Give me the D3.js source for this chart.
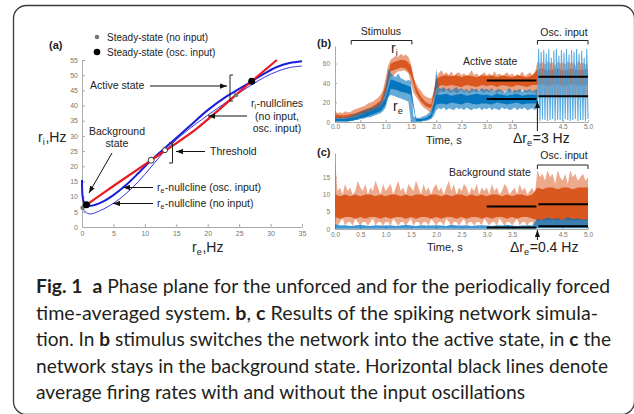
<!DOCTYPE html>
<html>
<head>
<meta charset="utf-8">
<script src="https://cdn.jsdelivr.net/npm/d3@7"></script>
<style>
  body { margin: 0; background: #fff; }
  svg text { font-family: "Liberation Sans", Arial, sans-serif; fill: #222; }
  .axis path, .axis line { stroke: #aaa; }
  .axis text { fill: #777; font-family: "Liberation Sans", Arial, sans-serif; }
  .cap { font-family: Lato, "Noto Sans", sans-serif; font-size: 19px; white-space: pre; }
  .cap tspan { fill: #231f20; }
</style>
</head>
<body>
<svg id="fig" width="634" height="414"></svg>
<script>
// ---- panel (a): phase plane ----
var reTicksA = [0, 5, 10, 15, 20, 25, 30, 35];
var riTicksA = [0, 5, 10, 15, 20, 25, 30, 35, 40, 45, 50, 55];
var redRe  = [0.7, 5, 11, 18, 22, 27, 31];
var redRi  = [7.3, 13.5, 22, 32, 39, 48, 55];
var oscRe  = [0, 0.1, 0.3, 0.7, 1.5, 3, 5, 7, 9, 11, 14, 17, 20, 23, 25, 27, 29, 31, 33, 35];
var oscRi  = [15.5, 10, 8.2, 7.3, 7.0, 8, 10.5, 13.8, 17.8, 22, 27.5, 33, 38.5, 43, 45.5, 48, 50.5, 52.7, 54, 54.6];
var noRe   = [0.1, 0.5, 1.3, 3, 5, 7, 9, 11, 13.2, 15, 17, 20, 23, 24.5, 27, 29, 31, 33, 35];
var noRi   = [6.3, 5.0, 4.3, 5.5, 7.8, 11, 15, 19.8, 25.1, 28.7, 32.2, 36.8, 41.2, 43.5, 46.8, 49.3, 51.2, 52.5, 53];
var fixedOsc = [[0.7, 7.3], [27, 48]];      // steady states, osc. input
var fixedNo  = [[0.1, 6.3], [24.5, 43.5]];  // steady states, no input
var saddles  = [[11, 22], [13.2, 25.3]];    // thresholds

// ---- panel (b): active state, sampled every 0.05 s ----
var timeTicks = [0, 0.5, 1, 1.5, 2, 2.5, 3, 3.5, 4.5, 5];
var rateTicksB = [0, 20, 40, 60];
var riHiB = [
  12,9,10,9,11,10,10,12,13,14,15,16,17,19,20,21,23,25,28,33,
  45,58,64,66,68,67,70,68,69,67,60,45,40,35,32,28,26,25,24,30,
  46,50,53,49,51,48,52,47,50,51,48,50,47,49,53,48,50,47,49,51,
  48,50,47,52,48,50,47,49,51,48,50,47,49,48,52,47,49,51,48,50,
  62,60,61,59,62,60,61,58,62,60,61,59,62,60,61,58,62,60,61,59,
  60];
var riLoB = [
  2,3,3,2,3,3,3,4,4,5,5,6,7,8,9,10,11,12,14,16,
  25,38,46,48,50,52,52,53,52,50,40,30,26,22,18,15,13,11,10,12,
  24,30,32,30,33,31,30,32,29,31,33,30,32,29,31,32,30,33,31,30,
  32,30,33,31,29,32,30,31,33,30,32,29,31,30,33,31,30,32,30,31,
  26,28,25,27,26,28,25,27,26,28,25,27,26,28,25,27,26,28,25,27,
  27];
// dense core of the trace, every 0.1 s
var riCoreHiB = [
  8,7,7,8,9,11,13,15,18,22,
  38,60,62,64,63,58,36,26,20,18,
  44,47,48,47,48,46,48,47,46,48,
  47,48,46,48,47,46,48,47,46,48,
  54,55,53,54,55,53,54,55,53,54,
  54];
var riCoreLoB = [
  4,4,4,5,6,8,9,11,13,17,
  30,52,54,56,55,48,30,21,16,14,
  34,38,37,38,37,36,38,37,36,38,
  37,38,36,38,37,36,38,37,36,38,
  38,39,37,38,39,37,38,39,37,38,
  38];
var reHiB = [
  5,4,5,4,5,5,6,7,8,9,10,11,12,13,14,15,16,18,20,24,
  35,55,50,48,46,50,45,44,42,43,42,6,5,4,5,6,7,9,12,20,
  55,35,34,36,33,35,32,34,36,33,35,32,34,31,35,33,34,32,35,33,
  34,32,35,31,33,34,32,30,33,35,31,33,32,34,31,33,32,34,31,33,
  34];
var reLoB = [
  0,0,0,0,0,0,1,1,2,2,3,3,4,5,5,6,7,8,9,11,
  15,25,28,27,26,25,24,23,22,21,0,0,0,0,0,1,1,2,3,6,
  12,14,13,15,12,14,13,12,15,13,14,12,15,13,12,14,13,15,12,14,
  13,15,12,14,13,12,15,13,14,12,13,15,12,14,13,15,12,13,14,12,
  14];
var reCoreHiB = [
  3,3,3,4,5,7,9,11,13,16,
  24,44,42,40,38,36,3,3,4,8,
  28,28,29,27,28,29,27,28,29,28,
  28,27,29,28,27,28,29,27,28,28,
  28];
var reCoreLoB = [
  1,1,1,1,2,4,5,7,9,11,
  18,34,33,31,30,28,1,1,2,4,
  18,19,18,20,19,18,20,19,18,19,
  19,18,20,19,18,19,20,18,19,19,
  19];
// r_e under the oscillating input (4-5 s): peaks and troughs
var oscPeaksB   = [75,72,74,70,75,66,73,75,68,74,71,75,69,74,72,75,70,73,66,75];
var oscTroughsB = [2,1,3,2,1,2,3,1,2,2,1,3,2,1,2,3,1,2,2,1,3];
var riAvgB = [42.5, 46.5];   // without / with oscillations
var reAvgB = [23.5, 26.5];

// ---- panel (c): background state ----
var rateTicksC = [0, 5, 10, 15];
var riHiC = [
  20,11,12,10,13,11,12,10,11,14,12,11,13,10,12,11,14,12,10,13,
  11,12,13,10,12,14,11,12,10,13,12,11,14,12,10,13,11,12,10,12,
  13,11,12,10,12,14,11,13,10,12,11,13,12,10,12,11,13,10,12,11,
  12,10,13,11,12,10,11,13,12,10,11,12,10,13,11,12,10,11,12,10,
  17,15,16,14,17,15,16,13,17,15,14,16,13,17,15,16,14,15,16,14,
  15];
var riLoC = [
  2,1,2,3,1,2,2,1,3,2,1,2,2,1,2,3,1,2,2,1,
  2,2,1,3,2,1,2,2,1,2,3,1,2,2,1,2,2,1,3,2,
  1,2,2,1,3,2,1,2,2,1,2,3,1,2,2,1,2,2,1,3,
  2,1,2,2,1,3,2,1,2,2,1,2,3,1,2,2,1,2,2,1,
  1,0.5,1,1,0.5,1,1,0.5,1,1,0.5,1,1,0.5,1,1,0.5,1,1,0.5,
  1];
var riCoreHiC = [
  10,9.5,10,9.5,10,9.5,10,10,9.5,10,
  9.5,10,10,9.5,10,9.5,10,10,9.5,10,
  10,9.5,10,9.5,10,10,9.5,10,9.5,10,
  9.5,10,10,9.5,10,9.5,10,10,9.5,10,
  12,11.5,12,12,11.5,12,12,11.5,12,12,
  12];
var riCoreLoC = [
  3.5,3,3.5,3.5,3,3.5,3,3.5,3.5,3,
  3.5,3,3.5,3.5,3,3.5,3,3.5,3.5,3,
  3.5,3,3.5,3.5,3,3.5,3,3.5,3.5,3,
  3.5,3,3.5,3.5,3,3.5,3,3.5,3.5,3,
  2.5,2.5,2.5,2.5,2.5,2.5,2.5,2.5,2.5,2.5,
  2.5];
var reHiC = [
  1.5,1,1.1,0.9,1,1.2,1,0.9,1.1,1,
  1,1.1,0.9,1,1.2,1,0.9,1.1,1,1,
  1.1,1,0.9,1.2,1,1,1.1,0.9,1,1.1,
  1,0.9,1.1,1,1.2,1,0.9,1,1.1,1,
  3,2.6,3.4,2.8,3.2,2.5,3.5,2.9,3.1,2.7,
  3];
var reLoC = [
  0.1,0.1,0.1,0.1,0.1,0.1,0.1,0.1,0.1,0.1,
  0.1,0.1,0.1,0.1,0.1,0.1,0.1,0.1,0.1,0.1,
  0.1,0.1,0.1,0.1,0.1,0.1,0.1,0.1,0.1,0.1,
  0.1,0.1,0.1,0.1,0.1,0.1,0.1,0.1,0.1,0.1,
  0.2,0.2,0.2,0.2,0.2,0.2,0.2,0.2,0.2,0.2,
  0.2];
var riAvgC = [6.5, 7.2];
var reAvgC = [0.4, 0.8];

var captionLines = [
  [['Fig. 1', 1], ['  ', 0], ['a', 1], [' Phase plane for the unforced and for the periodically forced', 0]],
  [['time-averaged system. ', 0], ['b', 1], [', ', 0], ['c', 1], [' Results of the spiking network simula-', 0]],
  [['tion. In ', 0], ['b', 1], [' stimulus switches the network into the active state, in ', 0], ['c', 1], [' the', 0]],
  [['network stays in the background state. Horizontal black lines denote', 0]],
  [['average firing rates with and without the input oscillations', 0]]
];
var captionWidths = [574, 562, 575, 572, 489];

var ORANGE = '#d95319';
var BLUE   = '#0072bd';
var RED    = '#e8191f';
var NBLUE  = '#1c1cd8';

var svg = d3.select('#fig');

// frame round figure and caption
svg.append('rect')
  .attr('x', 13.5).attr('y', 5.5)
  .attr('width', 621).attr('height', 409)
  .attr('rx', 13)
  .attr('fill', 'none').attr('stroke', '#3a3a3a').attr('stroke-width', 1.3);

svg.append('defs').append('marker')
  .attr('id', 'arr')
  .attr('viewBox', '0 0 8 6')
  .attr('refX', 8).attr('refY', 3)
  .attr('markerUnits', 'userSpaceOnUse')
  .attr('markerWidth', 7).attr('markerHeight', 5.5)
  .attr('orient', 'auto')
  .append('path').attr('d', 'M0,0L8,3L0,6Z').attr('fill', '#111');

function label(g, x, y, txt, size, anchor, weight) {
  return g.append('text')
    .attr('x', x).attr('y', y)
    .attr('font-size', size)
    .attr('text-anchor', anchor || 'start')
    .attr('font-weight', weight || 'normal')
    .text(txt);
}

// r with a subscript, then the rest of the text
function subLabel(g, x, y, main, sub, rest, size, anchor) {
  var t = g.append('text').attr('x', x).attr('y', y)
    .attr('font-size', size).attr('text-anchor', anchor || 'start');
  t.append('tspan').text(main);
  t.append('tspan').attr('font-size', size * 0.65).attr('dy', size * 0.2).text(sub);
  if (rest) t.append('tspan').attr('dy', -size * 0.2).attr('dx', size * 0.05).text(rest);
  return t;
}

function arrow(g, x1, y1, x2, y2) {
  g.append('line')
    .attr('x1', x1).attr('y1', y1).attr('x2', x2).attr('y2', y2)
    .attr('stroke', '#111').attr('stroke-width', 1)
    .attr('marker-end', 'url(#arr)');
}

function bracket(g, x1, x2, y, down) {
  g.append('path')
    .attr('d', 'M' + x1 + ',' + (y + down) + 'V' + y + 'H' + x2 + 'V' + (y + down))
    .attr('fill', 'none').attr('stroke', '#222').attr('stroke-width', 1);
}

function styleAxis(g, size) {
  g.attr('class', 'axis');
  g.selectAll('text').attr('font-size', size);
}

// ===================== panel (a) =====================
var xA = d3.scaleLinear().domain([0, 35]).range([82, 302]);
var yA = d3.scaleLinear().domain([0, 55]).range([227, 60]);
var pa = svg.append('g');

pa.append('g').attr('transform', 'translate(0,' + yA(0) + ')')
  .call(d3.axisBottom(xA).tickValues(reTicksA).tickSize(-3).tickSizeOuter(0).tickPadding(4))
  .call(styleAxis, 7);
pa.append('g').attr('transform', 'translate(' + xA(0) + ',0)')
  .call(d3.axisLeft(yA).tickValues(riTicksA).tickSize(-3).tickSizeOuter(0).tickPadding(4))
  .call(styleAxis, 7);

var curve = d3.line()
  .x(function(d) { return xA(d[0]); })
  .y(function(d) { return yA(d[1]); })
  .curve(d3.curveCatmullRom);

pa.append('path').datum(d3.zip(noRe, noRi)).attr('d', curve)
  .attr('fill', 'none').attr('stroke', '#3535e0').attr('stroke-width', 1);
pa.append('path').datum(d3.zip(oscRe, oscRi)).attr('d', curve)
  .attr('fill', 'none').attr('stroke', NBLUE).attr('stroke-width', 2);
pa.append('path').datum(d3.zip(redRe, redRi)).attr('d', curve)
  .attr('fill', 'none').attr('stroke', RED).attr('stroke-width', 2.2);

pa.selectAll('.fno').data(fixedNo).enter().append('circle')
  .attr('cx', function(d) { return xA(d[0]); })
  .attr('cy', function(d) { return yA(d[1]); })
  .attr('r', 2.3).attr('fill', '#777');
pa.selectAll('.fosc').data(fixedOsc).enter().append('circle')
  .attr('cx', function(d) { return xA(d[0]); })
  .attr('cy', function(d) { return yA(d[1]); })
  .attr('r', 3.5).attr('fill', '#000');
pa.selectAll('.sad').data(saddles).enter().append('circle')
  .attr('cx', function(d) { return xA(d[0]); })
  .attr('cy', function(d) { return yA(d[1]); })
  .attr('r', function(d, i) { return i === 0 ? 3 : 2.5; })
  .attr('fill', '#fff').attr('stroke', '#222').attr('stroke-width', 0.9);

// legend
label(pa, 49, 49, '(a)', 11, 'start', 'bold');
pa.append('circle').attr('cx', 97).attr('cy', 37).attr('r', 2.3).attr('fill', '#777');
label(pa, 107, 41, 'Steady-state (no input)', 10);
pa.append('circle').attr('cx', 97).attr('cy', 52).attr('r', 3.3).attr('fill', '#000');
label(pa, 107, 56, 'Steady-state (osc. input)', 10);

// annotations
label(pa, 90, 89, 'Active state', 10.5);
arrow(pa, 150, 86, 227, 86);
pa.append('path').attr('d', 'M233,75H230V101H233')
  .attr('fill', 'none').attr('stroke', '#222').attr('stroke-width', 1);

label(pa, 117, 135, 'Background', 10.5, 'middle');
label(pa, 117, 147, 'state', 10.5, 'middle');
arrow(pa, 112, 153, 89, 193);

label(pa, 210, 155, 'Threshold', 10.5);
arrow(pa, 205, 151.5, 176, 151.5);
pa.append('path').attr('d', 'M169,143H172.5V163H169')
  .attr('fill', 'none').attr('stroke', '#222').attr('stroke-width', 1);

subLabel(pa, 277, 107, 'r', 'i', '-nullclines', 10.5, 'middle');
label(pa, 277, 120, '(no input,', 10.5, 'middle');
label(pa, 277, 132, 'osc. input)', 10.5, 'middle');
arrow(pa, 247, 116, 208, 116);

subLabel(pa, 157, 191, 'r', 'e', '-nullcline (osc. input)', 10.5);
arrow(pa, 153, 187.5, 123, 187.5);
subLabel(pa, 157, 207, 'r', 'e', '-nullcline (no input)', 10.5);
arrow(pa, 153, 203.5, 113, 203.5);

subLabel(pa, 38, 142, 'r', 'i', ',Hz', 14);
subLabel(pa, 192, 252, 'r', 'e', ',Hz', 14);

// ===================== panels (b) and (c) =====================
var xT = d3.scaleLinear().domain([0, 5]).range([335, 588]);
var tFine = d3.range(riHiB.length).map(function(i) { return i / 20; });
var tCoarse = d3.range(riCoreHiB.length).map(function(i) { return i / 10; });

function band(g, y, t, lo, hi, color, opacity) {
  var area = d3.area()
    .x(function(d, i) { return xT(t[i]); })
    .y0(function(d, i) { return y(lo[i]); })
    .y1(function(d) { return y(d); });
  g.append('path').datum(hi).attr('d', area)
    .attr('fill', color).attr('opacity', opacity);
}

function avgLines(g, y, vals) {
  var spans = [[3, 3.98], [4.02, 5]];
  spans.forEach(function(s, i) {
    g.append('line')
      .attr('x1', xT(s[0])).attr('x2', xT(s[1]))
      .attr('y1', y(vals[i])).attr('y2', y(vals[i]))
      .attr('stroke', '#000').attr('stroke-width', 2);
  });
}

function timeAxes(g, y, ticks, pad) {
  g.append('g').attr('transform', 'translate(0,' + y.range()[0] + ')')
    .call(d3.axisBottom(xT).tickValues(timeTicks).tickSize(-2).tickSizeOuter(0).tickPadding(pad))
    .call(styleAxis, 6.5);
  g.append('g').attr('transform', 'translate(' + xT(0) + ',0)')
    .call(d3.axisLeft(y).tickValues(ticks).tickSize(-2).tickSizeOuter(0).tickPadding(5))
    .call(styleAxis, 6.5);
}

// ---- (b) ----
var yB = d3.scaleLinear().domain([0, 78]).range([122, 46]);
var pb = svg.append('g');
timeAxes(pb, yB, rateTicksB, 2);

band(pb, yB, tFine, riLoB, riHiB, ORANGE, 0.55);
band(pb, yB, tCoarse, riCoreLoB, riCoreHiB, ORANGE, 0.95);
band(pb, yB, tFine.slice(0, reHiB.length), reLoB, reHiB, BLUE, 0.6);
band(pb, yB, tCoarse.slice(0, reCoreHiB.length), reCoreLoB, reCoreHiB, BLUE, 0.95);

// oscillating r_e: alternate troughs and peaks across 4-5 s
var oscPts = [];
oscTroughsB.forEach(function(v, i) {
  var n = oscPeaksB.length;
  oscPts.push([4 + i / n, v]);
  if (i < n) oscPts.push([4 + (i + 0.5) / n, oscPeaksB[i]]);
});
pb.append('path').datum(oscPts)
  .attr('d', d3.line()
    .x(function(d) { return xT(d[0]); })
    .y(function(d) { return yB(d[1]); }))
  .attr('fill', 'none').attr('stroke', '#4ba3de').attr('stroke-width', 1.1).attr('opacity', 0.9);

avgLines(pb, yB, riAvgB);
avgLines(pb, yB, reAvgB);

label(pb, 317, 47, '(b)', 11, 'start', 'bold');
label(pb, 381, 35, 'Stimulus', 10.5, 'middle');
bracket(pb, xT(0.32), xT(1.52), 40.5, 4);
label(pb, 564, 36, 'Osc. input', 10.5, 'middle');
bracket(pb, xT(4), xT(5), 40.5, 4);
subLabel(pb, 391, 53, 'r', 'i', null, 14);
subLabel(pb, 393, 111, 'r', 'e', null, 14);
label(pb, 463, 65, 'Active state', 10.5);
label(pb, 426, 144, 'Time, s', 11);
arrow(pb, xT(4), 131, xT(4), 101);
subLabel(pb, 513, 143, 'Δr', 'e', '=3 Hz', 14);

// ---- (c) ----
var yC = d3.scaleLinear().domain([0, 22]).range([229, 153]);
var pc = svg.append('g');
timeAxes(pc, yC, rateTicksC, 3);

band(pc, yC, tFine, riLoC, riHiC, ORANGE, 0.5);
band(pc, yC, tCoarse, riCoreLoC, riCoreHiC, ORANGE, 0.95);
band(pc, yC, tCoarse, reLoC, reHiC, BLUE, 0.75);

avgLines(pc, yC, riAvgC);
avgLines(pc, yC, reAvgC);

label(pc, 317, 156, '(c)', 11, 'start', 'bold');
label(pc, 564, 159, 'Osc. input', 10.5, 'middle');
bracket(pc, xT(4), xT(5), 165, 4);
label(pc, 449, 176, 'Background state', 10.5);
label(pc, 427, 251, 'Time, s', 11);
arrow(pc, xT(4), 240, xT(4), 230);
subLabel(pc, 510, 252, 'Δr', 'e', '=0.4 Hz', 14);

// ===================== caption =====================
captionLines.forEach(function(parts, i) {
  var t = svg.append('text').attr('class', 'cap')
    .attr('x', 36).attr('y', 293 + i * 26.5)
    .attr('textLength', captionWidths[i])
    .attr('lengthAdjust', 'spacingAndGlyphs');
  parts.forEach(function(p) {
    t.append('tspan').attr('font-weight', p[1] ? 'bold' : 'normal').text(p[0]);
  });
});
</script>
</body>
</html>
